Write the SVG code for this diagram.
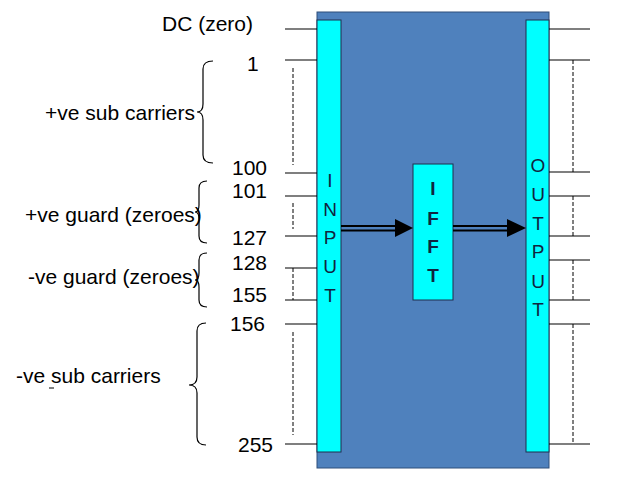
<svg xmlns="http://www.w3.org/2000/svg" width="623" height="487" viewBox="0 0 623 487">
<style>
.lbl{font-family:"Liberation Sans",Arial,sans-serif;font-size:21px;fill:#000}
.let{font-family:"Liberation Sans",Arial,sans-serif;font-size:19px;fill:#10253F;text-anchor:middle}
.bold{font-weight:bold}
.tick{stroke:#000;stroke-width:1.2;fill:none}
.dash{stroke:#000;stroke-width:1;stroke-dasharray:4,2;fill:none}
.brace{stroke:#000;stroke-width:1.2;fill:none}
.bar{fill:#00FFFF;stroke:#1F2F4F;stroke-width:1}
.shaft{stroke:#000;stroke-width:2;fill:none}
</style>
<rect width="623" height="487" fill="#fff"/>
<g id="frame"><rect x="317" y="12" width="232" height="456" fill="#4F81BD" stroke="#2F4F7A" stroke-width="1"/></g>
<g id="input"><rect class="bar" x="317" y="20" width="24" height="432"/>
<text class="let" x="330" y="187">I</text><text class="let" x="330" y="216">N</text><text class="let" x="330" y="244">P</text><text class="let" x="330" y="273">U</text><text class="let" x="330" y="302">T</text></g>
<g id="output"><rect class="bar" x="526" y="20" width="23" height="432"/>
<text class="let" x="538" y="172">O</text><text class="let" x="538" y="201">U</text><text class="let" x="538" y="230">T</text><text class="let" x="538" y="258">P</text><text class="let" x="538" y="288">U</text><text class="let" x="538" y="316">T</text></g>
<g id="ifft"><rect class="bar" x="413" y="164" width="40" height="136"/>
<text class="let bold" x="433" y="195">I</text><text class="let bold" x="433" y="225">F</text><text class="let bold" x="433" y="253">F</text><text class="let bold" x="433" y="282">T</text></g>
<g id="connectors">
<line class="shaft" x1="341" y1="226" x2="397" y2="226"/><line class="shaft" x1="341" y1="230.5" x2="397" y2="230.5"/>
<polygon points="395,219 413,228 395,237" fill="#000"/>
<line class="shaft" x1="453" y1="226" x2="509" y2="226"/><line class="shaft" x1="453" y1="230.5" x2="509" y2="230.5"/>
<polygon points="507,219 526,228 507,237" fill="#000"/>
</g>
<g id="left-ticks">
<path class="tick" d="M285 29H317M285 60H317M285 173H317M285 196H317M285 236H317M285 268H317M285 300H317M285 324H317M285 444H317"/>
<path class="dash" d="M293 68V165M293 203V229M293 268V300M293 332V435"/>
</g>
<g id="right-ticks">
<path class="tick" d="M549 29H590M549 60H590M549 172H590M549 196H590M549 236H590M549 260H590M549 300H590M549 324H590M549 444H590"/>
<path class="dash" d="M573 60V172M573 196V236M573 260V300M573 324V444"/>
</g>
<g id="numbers">
<text class="lbl" x="253" y="31" text-anchor="end">DC (zero)</text>
<text class="lbl" x="247" y="71">1</text>
<text class="lbl" x="232" y="175">100</text>
<text class="lbl" x="232" y="198">101</text>
<text class="lbl" x="232" y="245">127</text>
<text class="lbl" x="232" y="270">128</text>
<text class="lbl" x="232" y="302">155</text>
<text class="lbl" x="230" y="331">156</text>
<text class="lbl" x="238" y="452">255</text>
</g>
<g id="groups">
<path class="brace" d="M213 61Q203 61 203 69L203 104Q203 112 197 112Q203 112 203 120L203 155Q203 163 213 163"/>
<path class="brace" d="M207 181Q199 181 199 188L199 205Q199 212 195 212Q199 212 199 219L199 236Q199 243 207 243"/>
<path class="brace" d="M207 253Q199 253 199 260L199 273Q199 280 195 280Q199 280 199 287L199 300Q199 307 207 307"/>
<path class="brace" d="M206 323Q197 323 197 331L197 377Q197 385 189 385Q197 385 197 393L197 437Q197 445 206 445"/>
<text class="lbl" x="45" y="120">+ve sub carriers</text>
<text class="lbl" x="25" y="222">+ve guard (zeroes)</text>
<text class="lbl" x="28" y="284">-ve guard (zeroes)</text>
<text class="lbl" x="16" y="383">-ve sub carriers</text>
<line x1="49" y1="388" x2="54" y2="388" stroke="#000" stroke-width="1"/>
</g>
</svg>
